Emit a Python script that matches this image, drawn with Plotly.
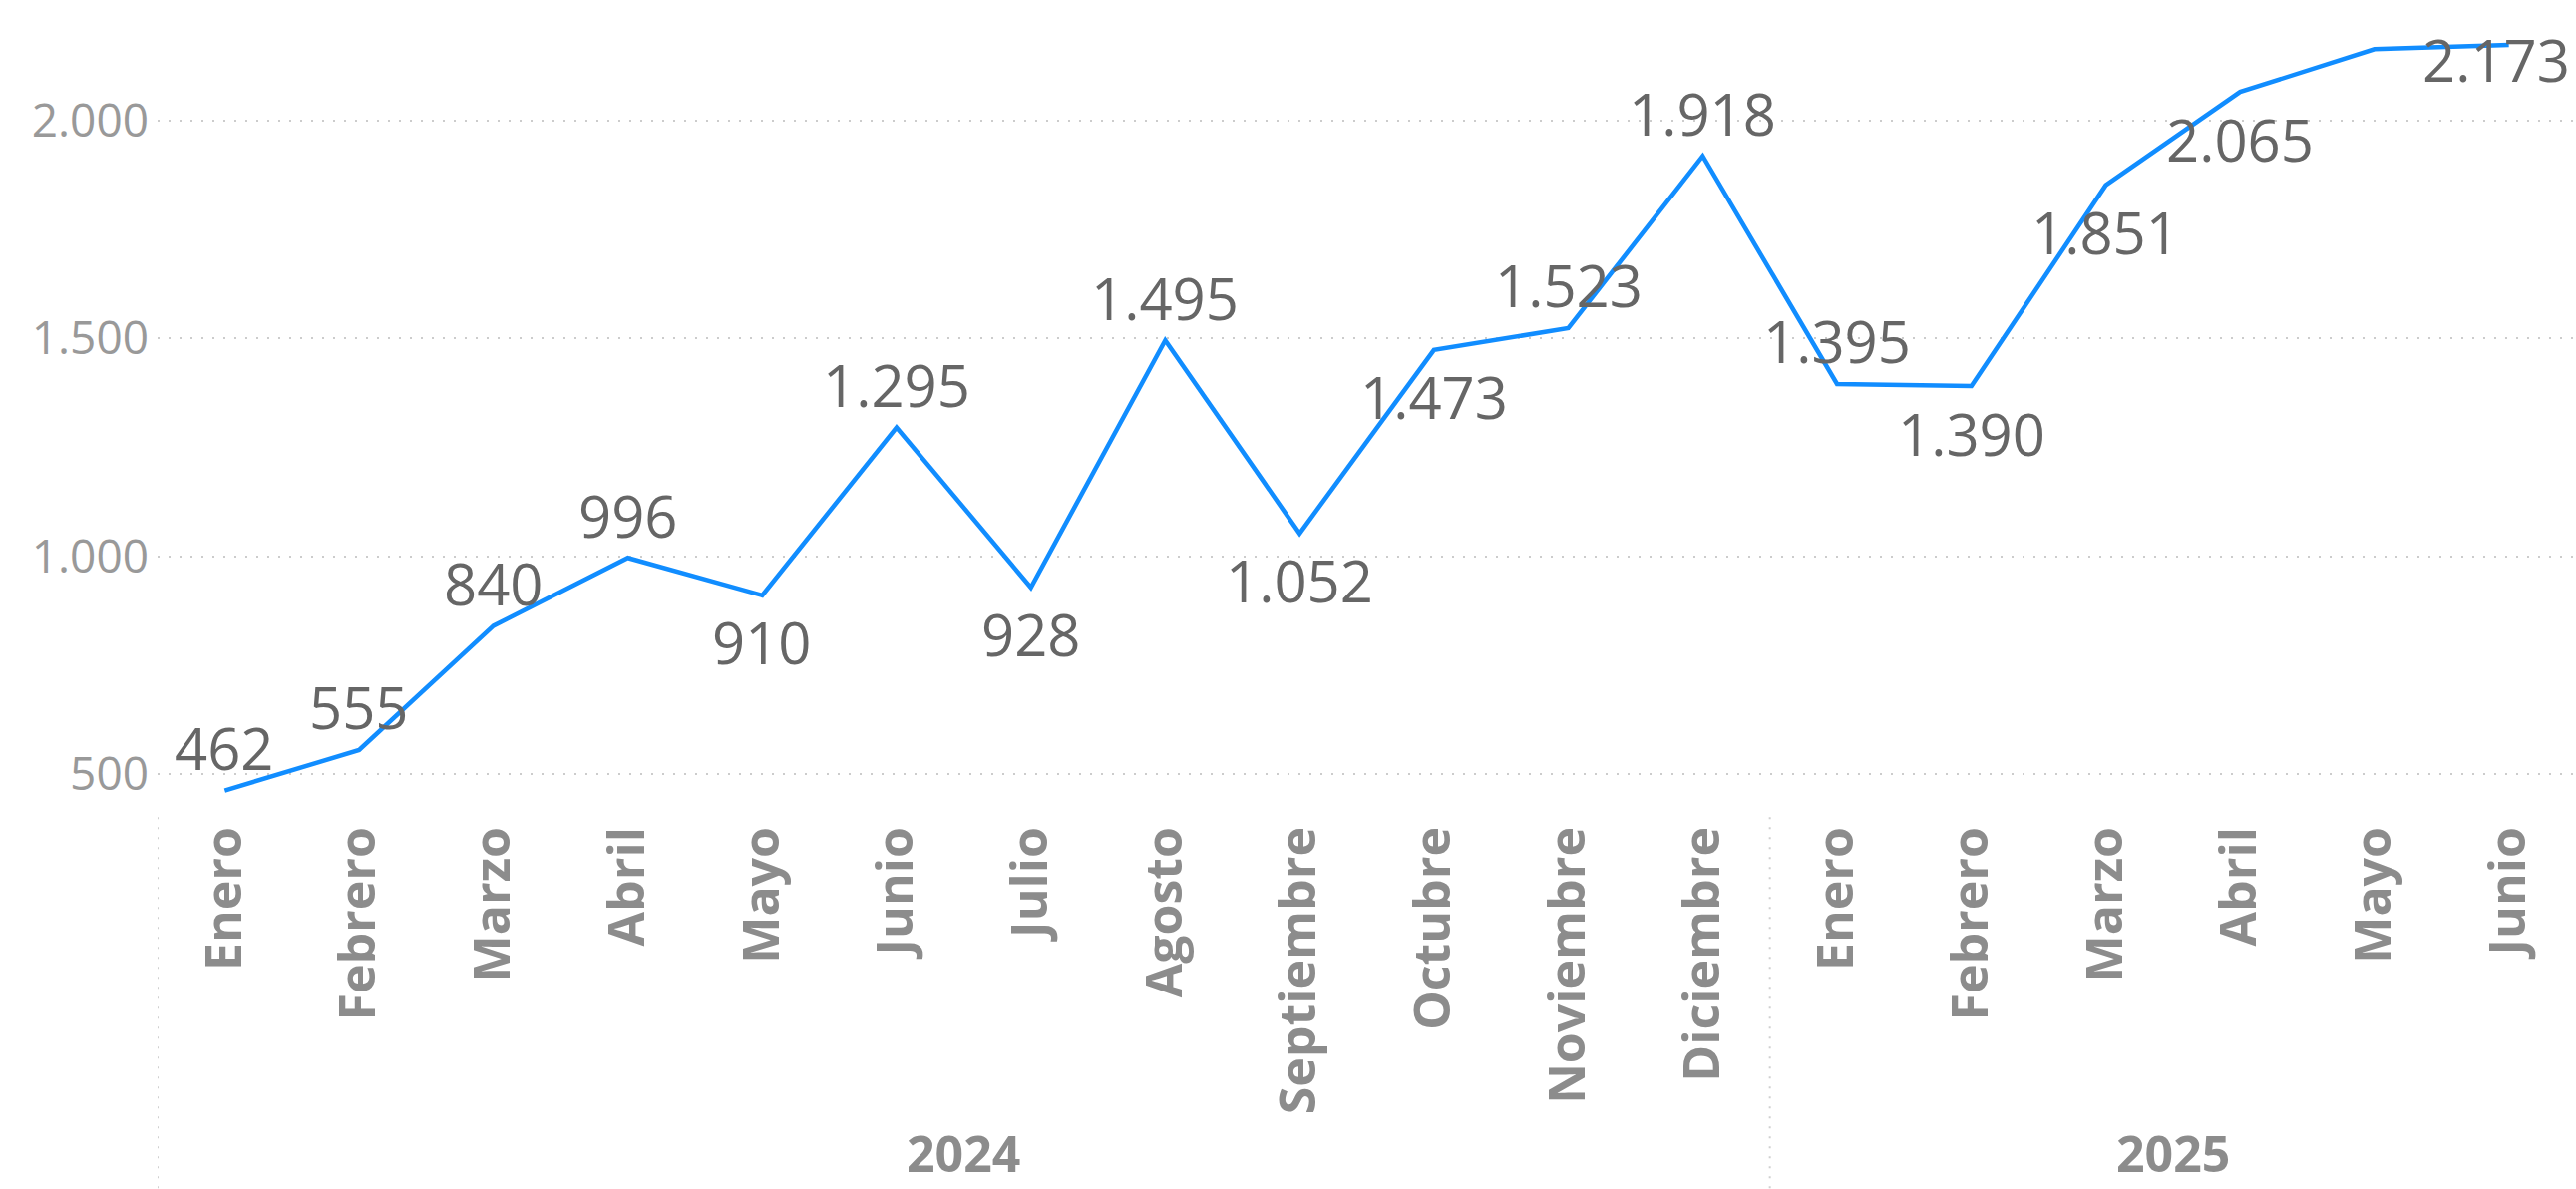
import plotly.graph_objects as go

# ---- data ----
years = ["2024"] * 12 + ["2025"] * 6
months = ["Enero", "Febrero", "Marzo", "Abril", "Mayo", "Junio", "Julio", "Agosto",
          "Septiembre", "Octubre", "Noviembre", "Diciembre",
          "Enero", "Febrero", "Marzo", "Abril", "Mayo", "Junio"]
values = [462, 555, 840, 996, 910, 1295, 928, 1495, 1052, 1473, 1523, 1918,
          1395, 1390, 1851, 2065, 2163, 2173]
label_shown = [True] * 16 + [False, True]
y_ticks = [500, 1000, 1500, 2000]

# ---- helpers ----
def fmt(v):
    return f"{v:,}".replace(",", ".")

x_idx = list(range(len(values)))
# label placement relative to the point: "above", "below" or "inside"
label_side = ["above", "above", "above", "above", "below", "above", "below", "above",
              "below", "below", "above", "above", "above", "below", "below", "below",
              "above", "inside"]
side_shift = {"above": (0, 43), "below": (0, -47), "inside": (-13, -15)}

W, H = 2583, 1192
ml, mr, mt, mb = 158, 0, 10, 380
plot_h = H - mt - mb
FONT = "Segoe UI, Open Sans, sans-serif"

fig = go.Figure()
fig.add_trace(go.Scatter(
    x=x_idx, y=values, mode="lines",
    line=dict(color="#118DFF", width=4.5),
    hoverinfo="skip", showlegend=False,
))

for xi, v, show, side in zip(x_idx, values, label_shown, label_side):
    if not show:
        continue
    dx, dy = side_shift[side]
    fig.add_annotation(x=xi, y=v, xref="x", yref="y", text=fmt(v), showarrow=False,
                       xanchor="center", yanchor="middle", xshift=dx, yshift=dy,
                       font=dict(family=FONT, size=58, color="#666666"))

# year groups
groups = []
for i, y in enumerate(years):
    if not groups or groups[-1][0] != y:
        groups.append([y, i, i])
    else:
        groups[-1][2] = i

year_bottom = -(1191 - (H - mb)) / plot_h
bottom_y = -(mb) / plot_h
for name, s, e in groups:
    fig.add_annotation(x=(s + e) / 2, y=year_bottom, xref="x", yref="paper",
                       text=f"<b>{name}</b>", showarrow=False, yanchor="bottom",
                       borderpad=0,
                       font=dict(family=FONT, size=50, color="#8c8c8c"))
    fig.add_shape(type="line", xref="x", yref="paper", x0=s - 0.5, x1=s - 0.5,
                  y0=-0.009, y1=bottom_y, line=dict(color="#cfcfcf", width=2, dash="2px,8px"))

fig.update_layout(
    width=W, height=H,
    margin=dict(l=ml, r=mr, t=mt, b=mb),
    paper_bgcolor="white", plot_bgcolor="white",
    xaxis=dict(
        range=[-0.5, len(values) - 0.5],
        tickmode="array", tickvals=x_idx, ticktext=[f"<b>{m}</b>" for m in months],
        tickangle=-90, showgrid=False, zeroline=False, showline=False, ticks="",
        tickfont=dict(family=FONT, size=50, color="#8c8c8c"),
        ticklabelstandoff=6,
    ),
    yaxis=dict(
        range=[417.6, 2253],
        tickmode="array", tickvals=y_ticks, ticktext=[fmt(v) for v in y_ticks],
        showgrid=True, gridcolor="#cccccc", gridwidth=2, griddash="2px,9px",
        zeroline=False, showline=False, ticks="",
        tickfont=dict(family=FONT, size=46, color="#999999"),
        ticklabelstandoff=8,
    ),
)

fig.write_html("out.html", config={"displayModeBar": False},
               post_script="document.body.style.margin='0';document.body.style.padding='0';")
